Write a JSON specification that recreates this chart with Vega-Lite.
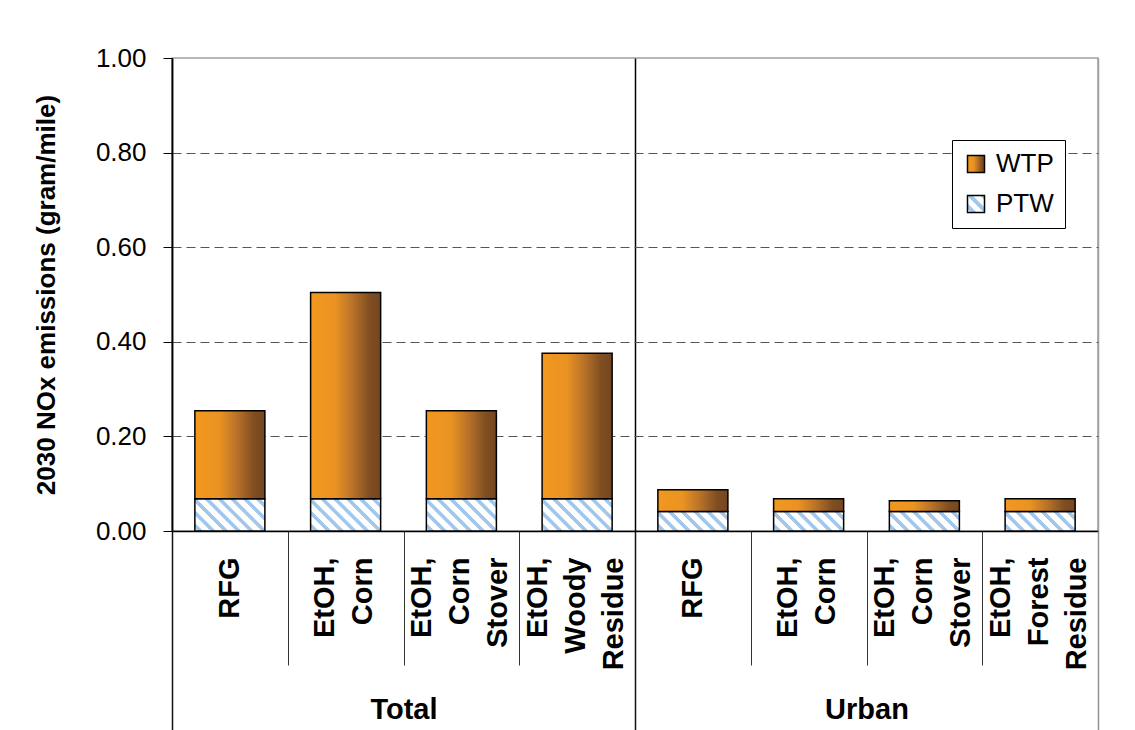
{
  "$schema": "https://vega.github.io/schema/vega-lite/v6.json",
  "width": 926,
  "height": 473,
  "autosize": {"type": "none"},
  "padding": {"left": 172, "top": 58, "right": 37, "bottom": 199},
  "background": "white",
  "config": {
    "font": "Liberation Sans",
    "view": {"stroke": "#a0a0a0", "strokeWidth": 1.5}
  },
  "datasets": {
    "bars": [
      {"cat": "Total|RFG", "group": "Total", "comp": "PTW", "value": 0.068},
      {"cat": "Total|RFG", "group": "Total", "comp": "WTP", "value": 0.186},
      {"cat": "Total|EtOH,|Corn", "group": "Total", "comp": "PTW", "value": 0.068},
      {"cat": "Total|EtOH,|Corn", "group": "Total", "comp": "WTP", "value": 0.436},
      {"cat": "Total|EtOH,|Corn|Stover", "group": "Total", "comp": "PTW", "value": 0.068},
      {"cat": "Total|EtOH,|Corn|Stover", "group": "Total", "comp": "WTP", "value": 0.186},
      {"cat": "Total|EtOH,|Woody|Residue", "group": "Total", "comp": "PTW", "value": 0.068},
      {"cat": "Total|EtOH,|Woody|Residue", "group": "Total", "comp": "WTP", "value": 0.308},
      {"cat": "Urban|RFG", "group": "Urban", "comp": "PTW", "value": 0.041},
      {"cat": "Urban|RFG", "group": "Urban", "comp": "WTP", "value": 0.046},
      {"cat": "Urban|EtOH,|Corn", "group": "Urban", "comp": "PTW", "value": 0.041},
      {"cat": "Urban|EtOH,|Corn", "group": "Urban", "comp": "WTP", "value": 0.027},
      {"cat": "Urban|EtOH,|Corn|Stover", "group": "Urban", "comp": "PTW", "value": 0.041},
      {"cat": "Urban|EtOH,|Corn|Stover", "group": "Urban", "comp": "WTP", "value": 0.023},
      {"cat": "Urban|EtOH,|Forest|Residue", "group": "Urban", "comp": "PTW", "value": 0.041},
      {"cat": "Urban|EtOH,|Forest|Residue", "group": "Urban", "comp": "WTP", "value": 0.027}
    ],
    "groups": [{"group": "Total"}, {"group": "Urban"}]
  },
  "layer": [
    {
      "data": {"name": "bars"},
      "mark": {"type": "bar", "strokeWidth": 1.5, "width": {"band": 0.605}},
      "encoding": {
        "x": {
          "field": "cat",
          "type": "nominal",
          "sort": null,
          "scale": {"paddingInner": 0, "paddingOuter": 0},
          "axis": {
            "title": null,
            "domainColor": "black",
            "domainWidth": 1.5,
            "tickBand": "extent",
            "tickSize": 134,
            "tickColor": "#333333",
            "tickWidth": 1,
            "labelAngle": 270,
            "labelAlign": "right",
            "labelBaseline": "middle",
            "labelFontSize": 29,
            "labelFontWeight": "bold",
            "labelColor": "black",
            "labelLineHeight": 38,
            "labelPadding": -108,
            "labelOffset": {"condition": [
              {"test": "length(split(datum.value, '|')) === 4", "value": -40},
              {"test": "length(split(datum.value, '|')) === 3", "value": -21}
            ], "value": 0},
            "labelOverlap": false,
            "labelLimit": 300,
            "labelExpr": "slice(split(datum.value, '|'), 1)",
            "grid": false
          }
        },
        "y": {
          "field": "value",
          "type": "quantitative",
          "stack": "zero",
          "scale": {"domain": [0, 1], "nice": false},
          "axis": {
            "title": "2030 NOx emissions (gram/mile)",
            "titleFontSize": 26,
            "titleFontWeight": "bold",
            "titleColor": "black",
            "titlePadding": 36,
            "values": [0, 0.2, 0.4, 0.6, 0.8, 1],
            "format": ".2f",
            "labelFontSize": 26,
            "labelColor": "black",
            "labelPadding": 17,
            "tickSize": 9,
            "tickColor": "black",
            "tickWidth": 1,
            "domainColor": "black",
            "domainWidth": 1.5,
            "grid": true,
            "gridColor": "#555555",
            "gridDash": [9, 5],
            "gridWidth": 1,
            "gridOpacity": {"condition": {"test": "datum.value <= 0 || datum.value >= 1", "value": 0}, "value": 1}
          }
        },
        "order": {"field": "comp", "sort": "ascending"},
        "stroke": {
          "field": "comp",
          "type": "nominal",
          "scale": {"domain": ["WTP", "PTW"], "range": ["black", "black"]},
          "legend": {
            "title": null,
            "orient": "none",
            "legendX": 780,
            "legendY": 82,
            "symbolType": "square",
            "symbolSize": 289,
            "symbolStrokeWidth": 1.5,
            "labelFontSize": 26,
            "labelColor": "black",
            "labelOffset": 7,
            "padding": 11,
            "rowPadding": 14,
            "strokeColor": "black",
            "fillColor": "white",
            "encoding": {
              "symbols": {
                "fill": {
                  "condition": {
                    "test": "datum.value === 'WTP'",
                    "value": {"gradient": "linear", "x1": 0, "y1": 0, "x2": 1, "y2": 0, "stops": [
                      {"offset": 0, "color": "#f2981f"}, {"offset": 0.35, "color": "#ea9323"}, {"offset": 0.6, "color": "#b87229"}, {"offset": 0.85, "color": "#7f4d21"}, {"offset": 1, "color": "#754720"}]}
                  },
                  "value": {"gradient": "linear", "x1": 0, "y1": 1, "x2": 1, "y2": 0, "stops": [
                    {"offset": 0, "color": "#ffffff"}, {"offset": 0.1, "color": "#ffffff"}, {"offset": 0.12, "color": "#a2c7ec"}, {"offset": 0.26, "color": "#a2c7ec"}, {"offset": 0.28, "color": "#ffffff"},
                    {"offset": 0.48, "color": "#ffffff"}, {"offset": 0.5, "color": "#a2c7ec"}, {"offset": 0.64, "color": "#a2c7ec"}, {"offset": 0.66, "color": "#ffffff"},
                    {"offset": 0.86, "color": "#ffffff"}, {"offset": 0.88, "color": "#a2c7ec"}, {"offset": 1, "color": "#a2c7ec"}]}
                }
              }
            }
          }
        },
        "fill": {
          "condition": [
            {
              "test": "datum.comp === 'WTP'",
              "value": {"gradient": "linear", "x1": 0, "y1": 0, "x2": 1, "y2": 0, "stops": [
                {"offset": 0, "color": "#f2981f"}, {"offset": 0.35, "color": "#ea9323"}, {"offset": 0.6, "color": "#b87229"}, {"offset": 0.85, "color": "#7f4d21"}, {"offset": 1, "color": "#754720"}]}
            },
            {
              "test": "datum.group === 'Total'",
              "value": {"gradient": "linear", "x1": 0, "y1": 1, "x2": 1.205, "y2": 0.446, "stops": [
                {"offset": 0, "color": "#ffffff"},
                {"offset": 0.025, "color": "#ffffff"}, {"offset": 0.035, "color": "#a2c7ec"}, {"offset": 0.075, "color": "#a2c7ec"}, {"offset": 0.085, "color": "#ffffff"},
                {"offset": 0.15, "color": "#ffffff"}, {"offset": 0.16, "color": "#a2c7ec"}, {"offset": 0.2, "color": "#a2c7ec"}, {"offset": 0.21, "color": "#ffffff"},
                {"offset": 0.275, "color": "#ffffff"}, {"offset": 0.285, "color": "#a2c7ec"}, {"offset": 0.325, "color": "#a2c7ec"}, {"offset": 0.335, "color": "#ffffff"},
                {"offset": 0.4, "color": "#ffffff"}, {"offset": 0.41, "color": "#a2c7ec"}, {"offset": 0.45, "color": "#a2c7ec"}, {"offset": 0.46, "color": "#ffffff"},
                {"offset": 0.525, "color": "#ffffff"}, {"offset": 0.535, "color": "#a2c7ec"}, {"offset": 0.575, "color": "#a2c7ec"}, {"offset": 0.585, "color": "#ffffff"},
                {"offset": 0.65, "color": "#ffffff"}, {"offset": 0.66, "color": "#a2c7ec"}, {"offset": 0.7, "color": "#a2c7ec"}, {"offset": 0.71, "color": "#ffffff"},
                {"offset": 0.775, "color": "#ffffff"}, {"offset": 0.785, "color": "#a2c7ec"}, {"offset": 0.825, "color": "#a2c7ec"}, {"offset": 0.835, "color": "#ffffff"},
                {"offset": 0.9, "color": "#ffffff"}, {"offset": 0.91, "color": "#a2c7ec"}, {"offset": 0.95, "color": "#a2c7ec"}, {"offset": 0.96, "color": "#ffffff"},
                {"offset": 1, "color": "#ffffff"}]}
            }
          ],
          "value": {"gradient": "linear", "x1": 0, "y1": 1, "x2": 1.186, "y2": 0.672, "stops": [
            {"offset": 0, "color": "#ffffff"},
            {"offset": 0.03, "color": "#ffffff"}, {"offset": 0.04, "color": "#a2c7ec"}, {"offset": 0.087, "color": "#a2c7ec"}, {"offset": 0.097, "color": "#ffffff"},
            {"offset": 0.173, "color": "#ffffff"}, {"offset": 0.183, "color": "#a2c7ec"}, {"offset": 0.23, "color": "#a2c7ec"}, {"offset": 0.24, "color": "#ffffff"},
            {"offset": 0.316, "color": "#ffffff"}, {"offset": 0.326, "color": "#a2c7ec"}, {"offset": 0.373, "color": "#a2c7ec"}, {"offset": 0.383, "color": "#ffffff"},
            {"offset": 0.459, "color": "#ffffff"}, {"offset": 0.469, "color": "#a2c7ec"}, {"offset": 0.516, "color": "#a2c7ec"}, {"offset": 0.526, "color": "#ffffff"},
            {"offset": 0.602, "color": "#ffffff"}, {"offset": 0.612, "color": "#a2c7ec"}, {"offset": 0.659, "color": "#a2c7ec"}, {"offset": 0.669, "color": "#ffffff"},
            {"offset": 0.745, "color": "#ffffff"}, {"offset": 0.755, "color": "#a2c7ec"}, {"offset": 0.802, "color": "#a2c7ec"}, {"offset": 0.812, "color": "#ffffff"},
            {"offset": 0.888, "color": "#ffffff"}, {"offset": 0.898, "color": "#a2c7ec"}, {"offset": 0.945, "color": "#a2c7ec"}, {"offset": 0.955, "color": "#ffffff"},
            {"offset": 1, "color": "#ffffff"}]}
        }
      }
    },
    {
      "data": {"name": "groups"},
      "mark": {"type": "rule", "opacity": 0},
      "encoding": {
        "x": {
          "field": "group",
          "type": "nominal",
          "scale": {"type": "band", "paddingInner": 0, "paddingOuter": 0},
          "axis": {
            "orient": "bottom",
            "title": null,
            "domain": false,
            "tickBand": "extent",
            "tickSize": 199,
            "tickColor": {"condition": {"test": "!datum.extra && datum.value === 'Urban'", "value": "#909090"}, "value": "#111111"},
            "tickWidth": 1.5,
            "labelAngle": 0,
            "labelAlign": "center",
            "labelBaseline": "top",
            "labelFontSize": 29,
            "labelFontWeight": "bold",
            "labelColor": "black",
            "labelPadding": -35,
            "grid": true,
            "gridColor": {"condition": {"test": "!datum.extra && datum.value === 'Urban'", "value": "#a0a0a0"}, "value": "black"},
            "gridWidth": 1.5
          }
        }
      }
    }
  ],
  "resolve": {"scale": {"x": "independent"}, "axis": {"x": "independent"}}
}
